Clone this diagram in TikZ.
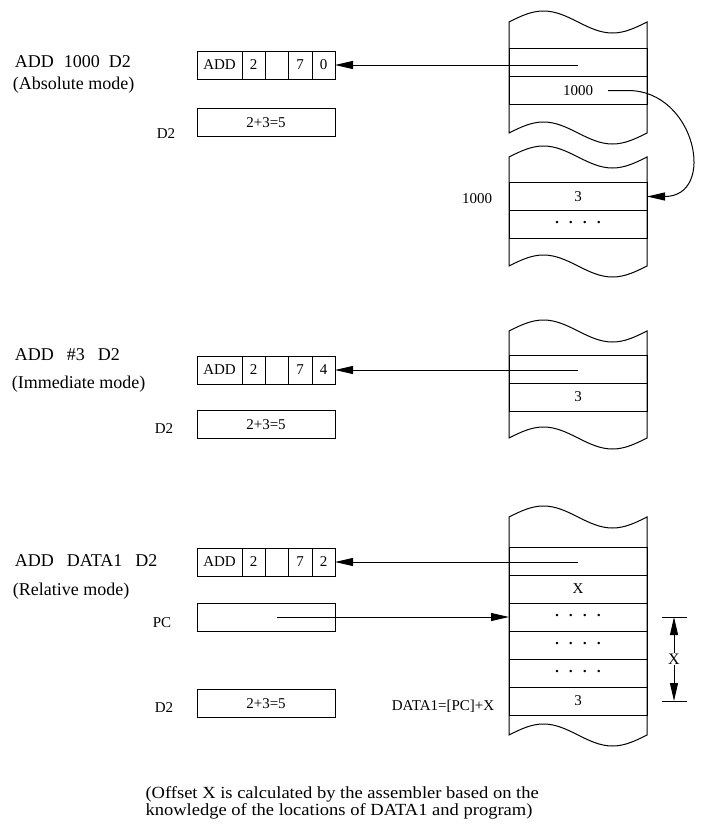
\documentclass[tikz,border=0pt]{standalone}
\usepackage{fontspec}
\setmainfont{Liberation Serif}
\newfontfamily\notefont[FakeStretch=1.09]{Liberation Serif}
\usetikzlibrary{arrows.meta,positioning}
\newcommand\memdots{\textbf{·}\hspace{9pt}\textbf{·}\hspace{9pt}\textbf{·}\hspace{9pt}\textbf{·}}

\begin{document}
\begin{tikzpicture}[x=1pt,y=-1pt,>={Triangle[length=18pt,width=8pt]},line width=1pt,
  field/.style={draw,minimum height=28pt,inner sep=0pt,outer sep=0pt,font=\fontsize{15}{18}\selectfont},
  reg/.style={field,minimum width=138pt},
  word/.style={field,minimum width=138pt},
  instr/.style={anchor=base west,font=\fontsize{18}{21}\selectfont},
  tag/.style={anchor=base east,font=\fontsize{15}{18}\selectfont}]
\useasboundingbox (0,0) rectangle (701,828);

% memory pieces with torn ends
\foreach \t/\b in {22/133,157/266,331/438,517/735}
  \draw (509,\t) sin (543.5,\t-11) cos (578,\t) sin (612.5,\t+11) cos (647,\t)
     -- (647,\b) sin (612.5,\b+11) cos (578,\b) sin (543.5,\b-11) cos (509,\b) -- cycle;

% absolute mode
\node[instr] (cmd1) at (11,67) {ADD\hspace{10pt}1000\hspace{9pt}D2};
\node[instr] (mode1) at (9,89) {(Absolute mode)};
\node[field,minimum width=45pt] (op1) at (219.5,65) {ADD};
\node[field,minimum width=23pt,right=0pt of op1] (r1) {2};
\node[field,minimum width=23pt,right=0pt of r1] (s1) {};
\node[field,minimum width=24pt,right=0pt of s1] (m1) {7};
\node[field,minimum width=23pt,right=0pt of m1] (e1) {0};
\node[reg] (acc1) at (266,122.5) {2+3=5};
\node[tag] (d2tag1) at (179,138) {D2};
\node[word] (w1) at (578,62.5) {};
\node[word,below=0pt of w1] (a1) {1000};
\node[word] (v1) at (578,196.5) {3};
\node[word,below=0pt of v1] (g1) {\memdots};
\node[tag] (loc1) at (496,203) {1000};
\draw[->] (w1.center |- e1.east) -- (e1.east);
\draw[->] ([xshift=30pt]a1.center) -- ++(20,0) .. controls +(68,0) and +(70,0) .. (v1.east);

% immediate mode
\node[instr] (cmd2) at (11,360) {ADD\hspace{13pt}\#3\hspace{13pt}D2};
\node[instr] (mode2) at (8,388) {(Immediate mode)};
\node[field,minimum width=45pt] (op2) at (219.5,370) {ADD};
\node[field,minimum width=23pt,right=0pt of op2] (r2) {2};
\node[field,minimum width=23pt,right=0pt of r2] (s2) {};
\node[field,minimum width=24pt,right=0pt of s2] (m2) {7};
\node[field,minimum width=23pt,right=0pt of m2] (e2) {4};
\node[reg] (acc2) at (266,424.5) {2+3=5};
\node[tag] (d2tag2) at (177,433) {D2};
\node[word] (w2) at (578,369) {};
\node[word,below=0pt of w2] (v2) {3};
\draw[->] (w2.center |- e2.east) -- (e2.east);

% relative mode
\node[instr] (cmd3) at (11,566) {ADD\hspace{13pt}DATA1\hspace{13pt}D2};
\node[instr] (mode3) at (9,595) {(Relative mode)};
\node[field,minimum width=45pt] (op3) at (219.5,562) {ADD};
\node[field,minimum width=23pt,right=0pt of op3] (r3) {2};
\node[field,minimum width=23pt,right=0pt of r3] (s3) {};
\node[field,minimum width=24pt,right=0pt of s3] (m3) {7};
\node[field,minimum width=23pt,right=0pt of m3] (e3) {2};
\node[reg] (pc) at (266,617) {};
\node[tag] (pctag) at (175,627) {PC};
\node[reg] (acc3) at (266,703.5) {2+3=5};
\node[tag] (d2tag3) at (177,712) {D2};
\node[word] (w3) at (578,561) {};
\node[word,below=0pt of w3] (x3) {X};
\node[word,below=0pt of x3] (g3) {\memdots};
\node[word,below=0pt of g3] (g4) {\memdots};
\node[word,below=0pt of g4] (g5) {\memdots};
\node[word,below=0pt of g5] (v3) {3};
\node[tag] (data1) at (498,710) {DATA1=[PC]+X};
\draw[->] (w3.center |- e3.east) -- (e3.east);
\draw[->] ([xshift=11pt]pc.center) -- (g3.west);

% offset X
\coordinate (xt) at ([xshift=96pt]g3.center);
\coordinate (xb) at ([xshift=96pt]v3.center);
\draw ([xshift=-12pt]xt) -- ([xshift=13pt]xt) ([xshift=-12pt]xb) -- ([xshift=13pt]xb);
\draw[<->] (xt) -- node[fill=white,inner sep=1pt,font=\fontsize{16}{18}\selectfont] (xlen) {X} (xb);

\node[anchor=north west,align=left,inner sep=0pt,font=\notefont\fontsize{17}{17.5}\selectfont] (note) at (145,786)
  {(Offset X is calculated by the assembler based on the\\knowledge of the locations of DATA1 and program)};
\end{tikzpicture}
\end{document}
